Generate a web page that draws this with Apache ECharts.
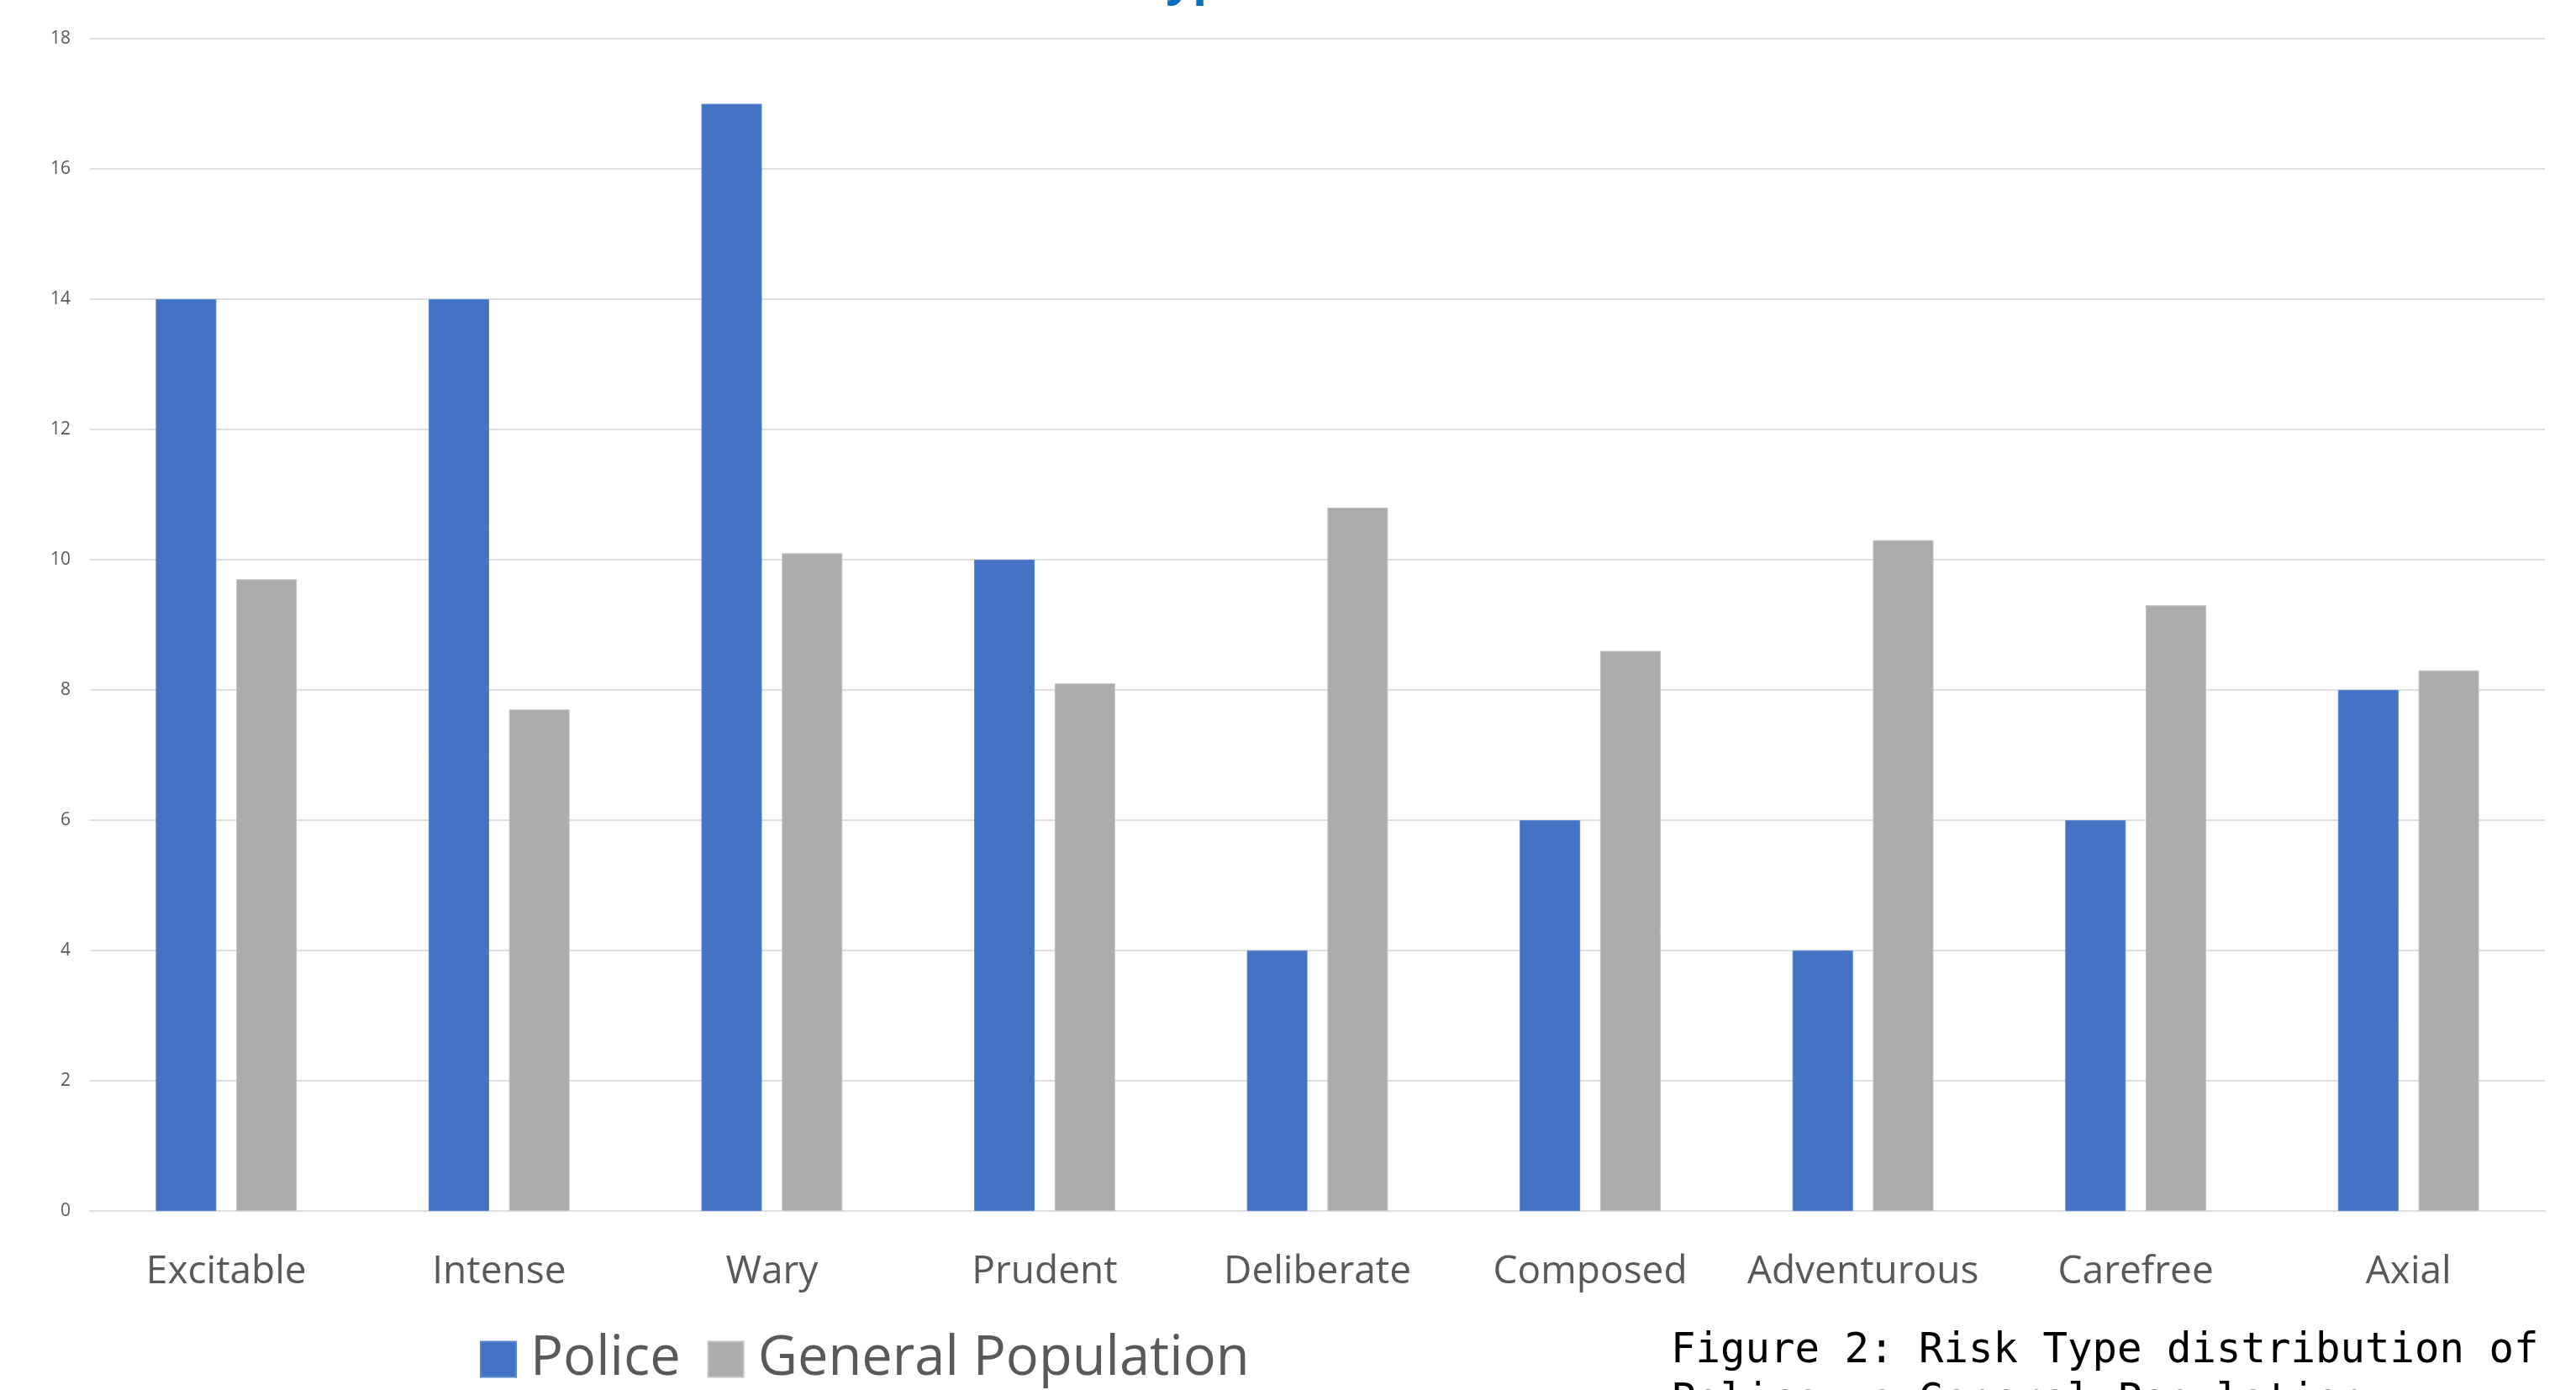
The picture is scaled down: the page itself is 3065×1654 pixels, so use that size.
<!DOCTYPE html>
<html>
<head>
<meta charset="utf-8">
<title>Risk Type distribution</title>
<script src="https://cdn.jsdelivr.net/npm/echarts@6/dist/echarts.min.js"></script>
<style>
  html, body { margin: 0; padding: 0; background: #ffffff; }
  #chart { width: 3065px; height: 1654px; }
</style>
</head>
<body>
<div id="chart"></div>
<script>
// Risk types on the category axis
const riskTypes = ['Excitable', 'Intense', 'Wary', 'Prudent', 'Deliberate', 'Composed', 'Adventurous', 'Carefree', 'Axial'];
// Percentage of each group per risk type
const policeValues = [14, 14, 17, 10, 4, 6, 4, 6, 8];
const generalPopulationValues = [9.7, 7.7, 10.1, 8.1, 10.8, 8.6, 10.3, 9.3, 8.3];
// Value axis ticks
const yTicks = [0, 2, 4, 6, 8, 10, 12, 14, 16, 18];

const chart = echarts.init(document.getElementById('chart'), null, { renderer: 'canvas' });

const textGrey = '#595959';
const gridGrey = '#DEDEDE';

chart.setOption({
  backgroundColor: '#ffffff',
  animation: false,
  grid: {
    left: 107,
    right: 37,
    top: 46,
    bottom: 213,
    containLabel: false
  },
  legend: {
    data: ['Police', 'General Population'],
    left: 566,
    top: 1580,
    itemWidth: 42,
    itemHeight: 42,
    itemGap: 32,
    icon: 'rect',
    textStyle: {
      color: textGrey,
      fontFamily: 'Open Sans',
      fontSize: 65,
      padding: [0, 0, 0, 12]
    }
  },
  xAxis: {
    type: 'category',
    data: riskTypes,
    axisTick: { show: false },
    axisLine: { lineStyle: { color: gridGrey, width: 2 } },
    axisLabel: {
      interval: 0,
      color: textGrey,
      fontFamily: 'Open Sans',
      fontSize: 46,
      margin: 50
    }
  },
  yAxis: {
    type: 'value',
    min: yTicks[0],
    max: yTicks[yTicks.length - 1],
    interval: yTicks[1] - yTicks[0],
    axisLine: { show: false },
    axisTick: { show: false },
    splitLine: { lineStyle: { color: gridGrey, width: 2 } },
    axisLabel: {
      color: textGrey,
      fontFamily: 'Open Sans',
      fontSize: 21,
      margin: 23
    }
  },
  series: [
    {
      name: 'Police',
      type: 'bar',
      data: policeValues,
      barWidth: 72,
      barGap: '33%',
      itemStyle: { color: '#4472C4', borderColor: '#5A85D0', borderWidth: 1 }
    },
    {
      name: 'General Population',
      type: 'bar',
      data: generalPopulationValues,
      barWidth: 72,
      itemStyle: { color: '#AEABAB', borderColor: '#C4C1C1', borderWidth: 1 }
    }
  ],
  graphic: [
    {
      // chart heading, sitting mostly above the top edge of the canvas
      type: 'text',
      x: 1532,
      y: 6,
      style: {
        text: 'Risk Type Distribution',
        fill: '#0070C0',
        font: 'bold 56px "Open Sans"',
        textAlign: 'center',
        textVerticalAlign: 'bottom'
      }
    },
    {
      type: 'text',
      left: 1988,
      top: 1578,
      style: {
        text: 'Figure 2: Risk Type distribution of\nPolice vs General Population',
        fill: '#000000',
        font: '49px "DejaVu Sans Mono"',
        lineHeight: 60
      }
    }
  ]
});
</script>
</body>
</html>
